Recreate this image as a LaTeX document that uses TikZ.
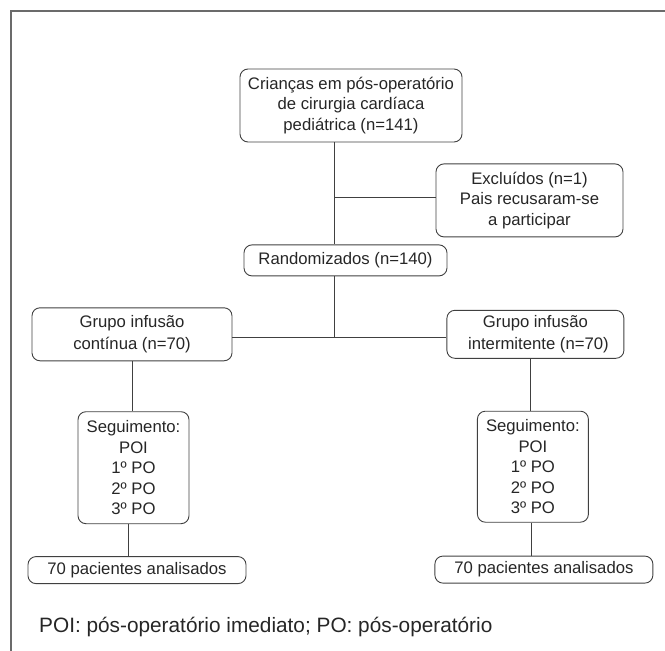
\documentclass[tikz,border=0pt]{standalone}
\usepackage{fontspec}
\setmainfont{Liberation Sans}
\usetikzlibrary{positioning}
\definecolor{boxgray}{gray}{0.25}
\definecolor{framegray}{gray}{0.42}

\begin{document}
\begin{tikzpicture}[
  x=1pt, y=1pt,
  box/.style={rectangle, rounded corners=8pt, draw=boxgray, line width=0.9pt,
              inner sep=0pt, align=center, text=black!85,
              font=\fontsize{16.7}{20.4}\selectfont},
  grupo/.style={box, font=\fontsize{16.7}{22.7}\selectfont},
  link/.style={draw=boxgray, line width=0.9pt},
  frame/.style={draw=framegray, line width=1.8pt},
  note/.style={text=black!85, inner sep=0pt, font=\fontsize{20.8}{24}\selectfont},
]
\useasboundingbox (0,0) rectangle (665,-651);
% Moldura
\draw[frame] (665,-11) -- (11,-11) -- (11,-651);
% Inclusao e exclusao
\node[box, minimum width=222pt, minimum height=73pt] (crianca) at (351,-105.5)
  {Crianças em pós-operatório\\de cirurgia cardíaca\\pediátrica (n=141)};
\node[box, minimum width=187pt, minimum height=73pt,
      below=21pt of crianca, xshift=178.5pt] (excl)
  {Excluídos (n=1)\\Pais recusaram-se\\a participar};
\node[box, minimum width=203pt, minimum height=31pt,
      below=102pt of crianca, xshift=-5.5pt] (rand) {Randomizados (n=140)};
% Grupos
\node[grupo, minimum width=200pt, minimum height=53pt,
      below=31pt of rand, xshift=-213.5pt] (grpC) {Grupo infusão\\contínua (n=70)};
\node[grupo, minimum width=177pt, minimum height=48pt,
      right=214pt of grpC] (grpI) {Grupo infusão\\\hspace*{6pt}intermitente (n=70)};
% Seguimento
\node[box, minimum width=111pt, minimum height=112pt,
      below=50pt of grpC, xshift=1.5pt] (segC) {Seguimento:\\POI\\1º PO\\2º PO\\3º PO};
\node[box, minimum width=111pt, minimum height=111pt,
      below=52pt of grpI, xshift=-2.5pt] (segI) {Seguimento:\\POI\\1º PO\\2º PO\\3º PO};
% Analisados
\node[box, minimum width=218pt, minimum height=27pt,
      below=32pt of segC, xshift=3.5pt] (anaC) {70 pacientes analisados};
\node[box, minimum width=218pt, minimum height=27pt,
      below=33pt of segI, xshift=11pt] (anaI) {70 pacientes analisados};
\node[note, anchor=base west] (nota) at (39,-632)
  {POI: pós-operatório imediato; PO: pós-operatório};
% Ligacoes
\coordinate (trunk) at (334,-197.3);
\coordinate (split) at (334,-337.7);
\draw[link] (crianca.south -| trunk) -- (rand.north -| trunk);
\draw[link] (trunk) -- (excl.west |- trunk);
\draw[link] (rand.south -| split) -- (split);
\draw[link] (grpC.east |- split) -- (grpI.west |- split);
\draw[link] (grpC.south) -- (grpC.south |- segC.north);
\draw[link] ([xshift=-5pt]segC.south) -- ([xshift=-5pt]segC.south |- anaC.north);
\draw[link] ([xshift=-4.5pt]grpI.south) -- ([xshift=-4.5pt]grpI.south |- segI.north);
\draw[link] ([xshift=-1pt]segI.south) -- ([xshift=-1pt]segI.south |- anaI.north);
\end{tikzpicture}
\end{document}
